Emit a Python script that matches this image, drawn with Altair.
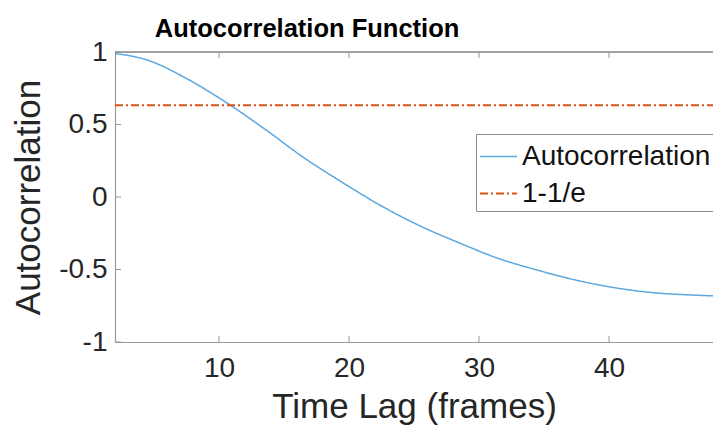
import altair as alt
import pandas as pd

# Data
lags = [2, 4.5, 7.5, 10.5, 13.5, 16.5, 19.5, 22.5, 25.5, 28.5, 31.4, 34.4, 37.4, 40.4, 43.4, 46.4, 48]
acf = [0.99, 0.944, 0.817, 0.655, 0.47, 0.273, 0.10, -0.062, -0.201, -0.317, -0.421, -0.502,
       -0.572, -0.625, -0.66, -0.676, -0.682]
threshold_x = [2, 48]
threshold_y = [0.632, 0.632]
x_ticks = [10, 20, 30, 40]
y_ticks = [-1, -0.5, 0, 0.5, 1]
series_names = ["Autocorrelation", "1-1/e"]

rows = [{"lag": x, "value": y, "series": series_names[0]} for x, y in zip(lags, acf)]
rows += [{"lag": x, "value": y, "series": series_names[1]} for x, y in zip(threshold_x, threshold_y)]
df = pd.DataFrame(rows)

W, H = 598, 290
FONT = "Liberation Sans"
AX = "#9a9a9a"

xs = alt.Scale(domain=[2, 48], nice=False, zero=False)
ys = alt.Scale(domain=[-1, 1], nice=False)

leg = dict(title=None, orient="none", legendX=361, legendY=82,
           symbolType="stroke", symbolSize=1369, symbolStrokeWidth=1.6,
           labelFontSize=28, labelFont=FONT, labelColor="#111111", labelLimit=500,
           strokeColor="#8a8a8a", fillColor="white", padding=3, rowPadding=3,
           labelOffset=4, cornerRadius=0)

lines = alt.Chart(df).mark_line(clip=True, interpolate="monotone").encode(
    x=alt.X("lag:Q", scale=xs,
            axis=alt.Axis(values=x_ticks, title="Time Lag (frames)", tickSize=0,
                          labelFontSize=28, titleFontSize=35, labelPadding=12,
                          titlePadding=7, domainColor=AX, labelColor="#262626",
                          titleColor="#262626", titleFontWeight="normal",
                          labelFont=FONT, titleFont=FONT, grid=False)),
    y=alt.Y("value:Q", scale=ys,
            axis=alt.Axis(values=y_ticks, title="Autocorrelation", tickSize=0,
                          labelExpr="datum.value < 0 ? '-' + format(-datum.value, '~g') : format(datum.value, '~g')",
                          labelFontSize=28, titleFontSize=35, labelPadding=8,
                          titlePadding=12, domainColor=AX, labelColor="#262626",
                          titleColor="#262626", titleFontWeight="normal",
                          labelFont=FONT, titleFont=FONT, grid=False)),
    color=alt.Color("series:N",
                    scale=alt.Scale(domain=series_names, range=["#5BA7E0", "#D95319"]),
                    legend=alt.Legend(**leg)),
    strokeDash=alt.StrokeDash("series:N",
                              scale=alt.Scale(domain=series_names, range=[[1, 0], [8, 3, 2, 3]]),
                              legend=alt.Legend(**leg)),
    strokeWidth=alt.StrokeWidth("series:N",
                                scale=alt.Scale(domain=series_names, range=[1.5, 2]),
                                legend=None),
)

xt = pd.DataFrame({"t": x_ticks})
yt = pd.DataFrame({"t": y_ticks})
bottom_ticks = alt.Chart(xt).mark_rule(color=AX, strokeWidth=1).encode(
    x=alt.X("t:Q", scale=xs), y=alt.value(H), y2=alt.value(H - 6))
top_ticks = alt.Chart(xt).mark_rule(color=AX, strokeWidth=1).encode(
    x=alt.X("t:Q", scale=xs), y=alt.value(0), y2=alt.value(6))
left_ticks = alt.Chart(yt).mark_rule(color=AX, strokeWidth=1).encode(
    y=alt.Y("t:Q", scale=ys), x=alt.value(0), x2=alt.value(6))
top_line = alt.Chart(xt).mark_rule(color=AX, strokeWidth=1).encode(
    x=alt.value(0), x2=alt.value(W + 20), y=alt.value(0))

chart = alt.layer(top_line, bottom_ticks, top_ticks, left_ticks, lines).properties(
    width=W, height=H,
    title=alt.TitleParams("Autocorrelation Function", font=FONT,
                          fontSize=25.5, fontWeight="bold", color="#000000",
                          anchor="start", dx=143, dy=27, offset=3, baseline="alphabetic"),
    autosize=alt.AutoSizeParams(type="none"),
    padding={"left": 107, "top": 44, "right": 0, "bottom": 86},
).configure_view(stroke=None).configure_axis(domainWidth=1.2)

chart.save("out.html", embed_options={"renderer": "svg", "actions": False})
